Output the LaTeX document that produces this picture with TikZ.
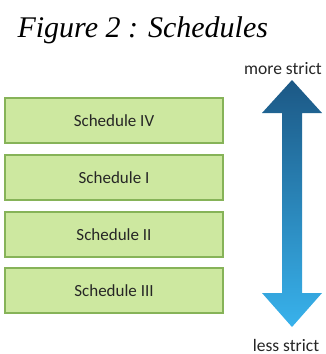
\documentclass[tikz,border=0pt]{standalone}
\usepackage{fontspec}
\setmainfont{Liberation Serif}
\newfontfamily\boxfont{Carlito}
\begin{document}
\begin{tikzpicture}[x=1pt,y=-1pt]
\definecolor{boxfill}{HTML}{CDE8A0}
\definecolor{boxline}{HTML}{86B358}
\definecolor{arrowtop}{HTML}{1C5885}
\definecolor{arrowbot}{HTML}{38B2EC}
\tikzset{
  schedbox/.style={draw=boxline, line width=1.8pt, fill=boxfill,
    minimum width=218pt, minimum height=45pt, inner sep=0pt,
    font=\boxfont\fontsize{17}{19}\selectfont, text=black!85},
  caption/.style={font=\boxfont\fontsize{17.5}{19}\selectfont, text=black!85}}
\useasboundingbox (0,0) rectangle (326,354);

% title
\node[font=\itshape\fontsize{30}{33}\selectfont, anchor=base west] (title) at (14,37) {Figure 2 : Schedules};

% schedule boxes
\node[schedbox] (s4) at (114,120.5) {Schedule IV};
\node[schedbox] (s1) at (114,177.5) {Schedule I};
\node[schedbox] (s2) at (114,234.5) {Schedule II};
\node[schedbox] (s3) at (114,290.5) {Schedule III};

% double-headed strictness arrow
\shade[top color=arrowtop, bottom color=arrowbot, draw=none]
  (292,80) -- (322,113) -- (302,113) -- (302,293) -- (322,293)
  -- (292,327) -- (262,293) -- (282,293) -- (282,113) -- (262,113) -- cycle;

\node[caption] (more) at (283,69) {more strict};
\node[caption] (less) at (286,345) {less strict};
\end{tikzpicture}
\end{document}
